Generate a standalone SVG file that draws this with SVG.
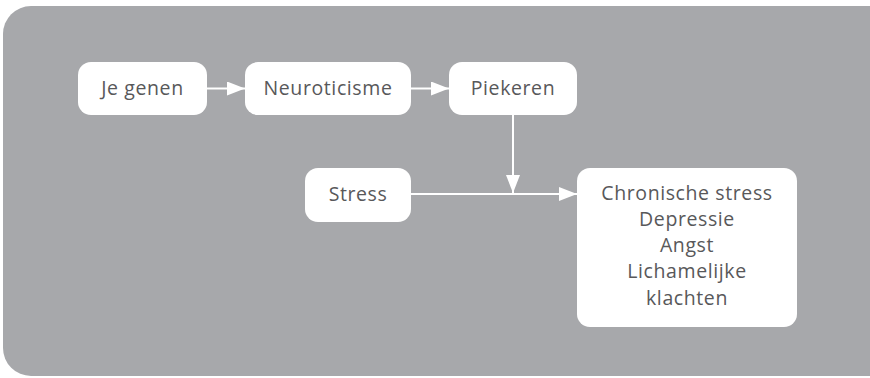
<svg xmlns="http://www.w3.org/2000/svg" width="870" height="378" viewBox="0 0 870 378">
<style>
.node rect{fill:#ffffff}
.node text{font-family:"Open Sans","Noto Sans","Liberation Sans",sans-serif;font-size:19.5px;letter-spacing:0.6px;fill:#58585a;text-anchor:middle}
.conn line{stroke:#ffffff;stroke-width:2}
</style>
<defs>
<marker id="ah" viewBox="0 0 18 14" refX="18" refY="7" markerWidth="18" markerHeight="14" markerUnits="userSpaceOnUse" orient="auto">
<path d="M0,0 L18,7 L0,14 Z" fill="#ffffff"/>
</marker>
</defs>
<rect x="0" y="0" width="870" height="378" fill="#ffffff"/>
<rect x="3" y="6" width="900" height="370" rx="28" fill="#a7a8ab"/>
<g class="conn">
<line x1="207" y1="88.5" x2="245" y2="88.5" marker-end="url(#ah)"/>
<line x1="411" y1="88.5" x2="449" y2="88.5" marker-end="url(#ah)"/>
<line x1="513" y1="115" x2="513" y2="193" marker-end="url(#ah)"/>
<line x1="411" y1="194" x2="577" y2="194" marker-end="url(#ah)"/>
</g>
<g id="je-genen" class="node"><rect x="78" y="62" width="129" height="53" rx="13"/><text x="142.5" y="95">Je genen</text></g>
<g id="neuroticisme" class="node"><rect x="245" y="62" width="166" height="53" rx="13"/><text x="328" y="95">Neuroticisme</text></g>
<g id="piekeren" class="node"><rect x="449" y="62" width="128" height="53" rx="13"/><text x="513" y="95">Piekeren</text></g>
<g id="stress" class="node"><rect x="305" y="168" width="106" height="54" rx="13"/><text x="358" y="201">Stress</text></g>
<g id="gevolgen" class="node"><rect x="577" y="168" width="220" height="159" rx="13"/>
<text x="687" y="200">Chronische stress</text>
<text x="687" y="226">Depressie</text>
<text x="687" y="252">Angst</text>
<text x="687" y="278">Lichamelijke</text>
<text x="687" y="305">klachten</text>
</g>
</svg>
